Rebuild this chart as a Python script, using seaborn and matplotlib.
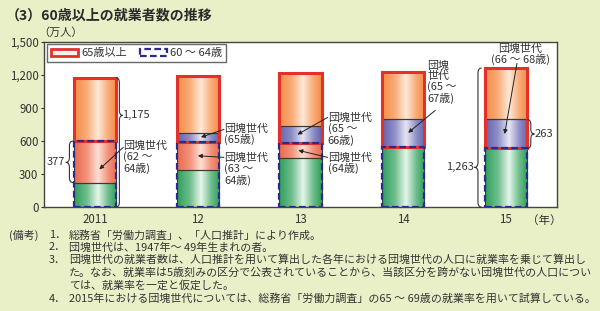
import numpy as np
import matplotlib
matplotlib.use("Agg")
import matplotlib.pyplot as plt
import seaborn as sns
from matplotlib.colors import LinearSegmentedColormap, to_rgb
from matplotlib.patches import Patch, PathPatch
from matplotlib.path import Path

# data (万人)
years = ["2011", "12", "13", "14", "15"]
age60_64 = np.array([600, 595, 583, 548, 533])
age65_plus = np.array([575, 596, 637, 681, 730])
dankai_60_64 = np.array([377, 257, 135, 0, 0])
dankai_65_plus = np.array([0, 80, 153, 255, 263])
total_labels = {0: "1,175", 4: "1,263"}

other_60_64 = age60_64 - dankai_60_64
other_65_plus = age65_plus - dankai_65_plus
total = age60_64 + age65_plus

notes = [
    ("1．", "総務省「労働力調査」、「人口推計」により作成。"),
    ("2．", "団塊世代は、1947年～ 49年生まれの者。"),
    ("3．", "団塊世代の就業者数は、人口推計を用いて算出した各年における団塊世代の人口に就業率を乗じて算出し"),
    ("", "た。なお、就業率は5歳刻みの区分で公表されていることから、当該区分を跨がない団塊世代の人口につい"),
    ("", "ては、就業率を一定と仮定した。"),
    ("4．", "2015年における団塊世代については、総務省「労働力調査」の65 ～ 69歳の就業率を用いて試算している。"),
]

sns.set_theme(style="white")
plt.rcParams["font.family"] = ["Noto Sans CJK JP", "DejaVu Sans"]
bg = "#e9f0c8"
dark = "#333333"

fig = plt.figure(figsize=(6, 3.11), dpi=100, facecolor=bg)
ax = fig.add_axes([0.0733, 0.334, 0.855, 0.531])
ax.set_facecolor("white")

W = 0.41
layers = [
    (other_60_64, np.zeros(5), "#2f9f5c", "#e6f6ea"),
    (dankai_60_64, other_60_64, "#ec6a4c", "#fde0d5"),
    (dankai_65_plus, age60_64, "#6262ad", "#e6e6f5"),
    (other_65_plus, age60_64 + dankai_65_plus, "#f58c45", "#fee9d8"),
]


def mix(a, b, t):
    a, b = np.array(to_rgb(a)), np.array(to_rgb(b))
    return tuple(a + (b - a) * t)


def shade(patch, base, light):
    h = patch.get_height()
    if h <= 0:
        patch.set_visible(False)
        return
    x0, y0, w = patch.get_x(), patch.get_y(), patch.get_width()
    cmap = LinearSegmentedColormap.from_list(
        "g", [(0, base), (0.3, mix(base, light, 0.35)), (0.56, light),
              (0.8, mix(base, light, 0.35)), (1, base)])
    grad = np.linspace(0, 1, 80).reshape(1, -1)
    im = ax.imshow(grad, cmap=cmap, extent=(x0, x0 + w, y0, y0 + h),
                   aspect="auto", origin="lower", zorder=2,
                   interpolation="bilinear")
    im.set_clip_path(patch)
    patch.set_facecolor("none")
    patch.set_zorder(3)


for vals, bottom, base, light in layers:
    n0 = len(ax.patches)
    sns.barplot(x=years, y=vals, bottom=bottom, color=base, width=W,
                edgecolor="#3a3a3a", linewidth=0.8, errorbar=None, ax=ax)
    for p in ax.patches[n0:]:
        shade(p, base, light)

# outline boxes
red = "#e3302a"
navy = "#2b2b8f"
n0 = len(ax.patches)
sns.barplot(x=years, y=age65_plus, bottom=age60_64, color=red, width=W,
            errorbar=None, ax=ax)
for p in ax.patches[n0:]:
    p.set_facecolor("none")
    p.set_edgecolor(red)
    p.set_linewidth(2.2)
    p.set_zorder(4)
n0 = len(ax.patches)
sns.barplot(x=years, y=age60_64, color=navy, width=W, errorbar=None, ax=ax)
for p in ax.patches[n0:]:
    p.set_facecolor("none")
    p.set_edgecolor(navy)
    p.set_linewidth(1.6)
    p.set_linestyle((0, (3, 1.5)))
    p.set_zorder(5)

ax.set_xlim(-0.5, 4.5)
ax.set_ylim(0, 1500)
ax.set_yticks([0, 300, 600, 900, 1200, 1500])
ax.set_yticklabels(["0", "300", "600", "900", "1,200", "1,500"], fontsize=8.3, color=dark)
ax.set_xticks(range(5))
ax.set_xticklabels(years, fontsize=8.3, color=dark)
ax.set_xticks([0.5, 1.5, 2.5, 3.5], minor=True)
ax.tick_params(axis="x", which="major", length=0, pad=4)
ax.tick_params(axis="x", which="minor", direction="in", length=2.5, width=0.8, color=dark)
ax.tick_params(axis="y", which="major", direction="out", length=2.5, width=0.8, color=dark, pad=1.5, left=True)
ax.set_xlabel("")
for s in ax.spines.values():
    s.set_color("#444444")
    s.set_linewidth(1.0)

ax.text(4.21, -0.038, "（年）", transform=ax.get_xaxis_transform(), ha="left", va="top",
        fontsize=8.3, color=dark)
fig.text(38 / 600, 1 - 33 / 311, "（万人）", fontsize=8, color=dark, va="center", ha="left")
title = fig.text(6 / 600, 1 - 15 / 311, "（3）60歳以上の就業者数の推移", fontsize=10.5,
                 fontweight="bold", color="#2a2a2a", va="center", ha="left")

# legend
handles = [Patch(facecolor="#fff0f0", edgecolor=red, linewidth=2.0, label="65歳以上"),
           Patch(facecolor="white", edgecolor=navy, linewidth=1.6, linestyle=(0, (3, 1.5)),
                 label="60 ～ 64歳")]
leg = ax.legend(handles=handles, ncol=2, loc="upper left", bbox_to_anchor=(0.006, 0.985),
                borderaxespad=0, fontsize=8, frameon=True, fancybox=False,
                handlelength=2.4, handleheight=0.7, handletextpad=0.3, columnspacing=1.2,
                borderpad=0.35, labelcolor=dark)
leg.get_frame().set_edgecolor("#444444")
leg.get_frame().set_linewidth(1.0)


# braces
def brace(x, y0, y1, ytip, w, right=True):
    d = w if right else -w
    r = 45
    verts = [(x - d, y0), (x, y0), (x, y0 + r),
             (x, ytip - r), (x, ytip), (x + d, ytip),
             (x, ytip), (x, ytip + r),
             (x, y1 - r), (x, y1), (x - d, y1)]
    codes = [Path.MOVETO, Path.CURVE3, Path.CURVE3,
             Path.LINETO, Path.CURVE3, Path.CURVE3,
             Path.CURVE3, Path.CURVE3,
             Path.LINETO, Path.CURVE3, Path.CURVE3]
    ax.add_patch(PathPatch(Path(verts, codes), facecolor="none", edgecolor=dark,
                           linewidth=0.8, zorder=6, clip_on=False))


bw = 0.035
brace(0 + 0.235, 0, total[0], 833, bw, right=True)
ax.text(0 + 0.265, 833, total_labels[0], fontsize=8, color=dark, va="center", ha="left")
brace(0 - 0.252, other_60_64[0], age60_64[0], 406, bw, right=False)
ax.text(0 - 0.29, 406, str(dankai_60_64[0]), fontsize=8, color=dark, va="center", ha="right")
brace(4 - 0.27, 0, total[4], 361, bw, right=False)
ax.text(4 - 0.31, 361, total_labels[4], fontsize=8, color=dark, va="center", ha="right")
tip263 = age60_64[4] + dankai_65_plus[4] / 2
brace(4 + 0.245, age60_64[4], age60_64[4] + dankai_65_plus[4], tip263, bw, right=True)
ax.text(4 + 0.285, tip263, str(dankai_65_plus[4]), fontsize=8, color=dark, va="center", ha="left")

# 団塊世代 annotations: (text x, text top y, label, arrow start, tip)
ann = [
    (0.273, 606, "団塊世代\n(62 ～\n64歳)", (0.273, 543),
     (0.04, other_60_64[0] + dankai_60_64[0] * 0.32)),
    (1.254, 760, "団塊世代\n(65歳)", (1.254, 706),
     (1.03, age60_64[1] + dankai_65_plus[1] / 2)),
    (1.254, 497, "団塊世代\n(63 ～\n64歳)", (1.254, 452),
     (1.0, other_60_64[1] + dankai_60_64[1] / 2)),
    (2.265, 861, "団塊世代\n(65 ～\n66歳)", (2.265, 815),
     (1.97, age60_64[2] + dankai_65_plus[2] / 2)),
    (2.265, 497, "団塊世代\n(64歳)", (2.265, 452),
     (1.98, other_60_64[2] + dankai_60_64[2] / 2)),
    (3.237, 1334, "団塊\n世代\n(65 ～\n67歳)", (3.314, 879),
     (3.05, age60_64[3] + dankai_65_plus[3] / 2)),
]
for tx, ty, lab, start, tip in ann:
    ax.text(tx, ty, lab, fontsize=7.9, color=dark, va="top", ha="left",
            linespacing=1.05, zorder=7)
    ax.annotate("", xy=tip, xytext=start, zorder=7,
                arrowprops=dict(arrowstyle="-|>", color="#222222", lw=0.7,
                                mutation_scale=6, shrinkA=0, shrinkB=0))
ax.text(4.14, 1488, "団塊世代\n(66 ～ 68歳)", fontsize=7.9, color=dark, va="top",
        ha="center", linespacing=1.05, zorder=7)
ax.annotate("", xy=(3.99, age60_64[4] + dankai_65_plus[4] / 2), xytext=(4.11, 1306),
            zorder=7, arrowprops=dict(arrowstyle="-|>", color="#222222", lw=0.7,
                                      mutation_scale=6, shrinkA=0, shrinkB=0))

# notes
fig.text(9 / 600, 1 - 235 / 311, "(備考)", fontsize=7.9, color=dark, va="center", ha="left")
ys = [235, 247.5, 260, 272.5, 285, 298.5]
for (num, line), y in zip(notes, ys):
    if num:
        fig.text(49 / 600, 1 - y / 311, num, fontsize=7.9, color=dark, va="center", ha="left")
    fig.text(69 / 600, 1 - y / 311, line, fontsize=7.9, color=dark, va="center", ha="left")

# fit title width to the reference (ends near x=213)
fig.canvas.draw()
bb = title.get_window_extent()
title.set_fontsize(title.get_fontsize() * (213 - bb.x0) / bb.width)

fig.savefig("out.png", dpi=100, facecolor=bg)
